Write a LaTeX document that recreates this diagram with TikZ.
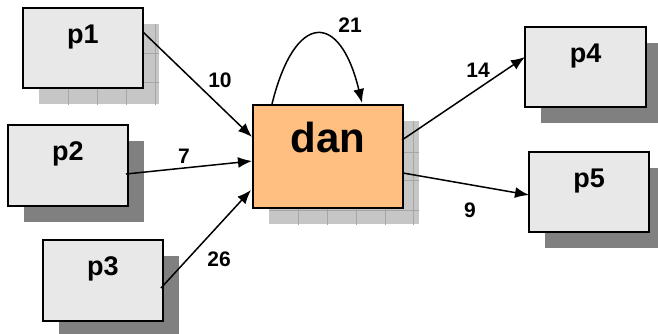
\documentclass[tikz,border=0pt]{standalone}
\usepackage{fontspec}
\setmainfont{Liberation Sans}
\usetikzlibrary{arrows.meta,backgrounds,calc}
\definecolor{boxgray}{HTML}{E8E8E8}
\definecolor{shadowdark}{HTML}{808080}
\definecolor{shadowlight}{HTML}{C6C6C6}
\definecolor{gridline}{HTML}{A6A6A6}
\definecolor{danfill}{HTML}{FFBF80}
\begin{document}
\begin{tikzpicture}[x=1pt,y=-1pt,
  pbox/.style={draw=black, line width=1.5pt, fill=boxgray, anchor=north west,
    minimum width=120pt, inner sep=0pt, outer sep=0pt, text height=35pt, text depth=45pt,
    font=\bfseries\fontsize{27}{27}\selectfont},
  danbox/.style={pbox, fill=danfill, minimum width=150pt, text height=47pt, text depth=56pt,
    font=\bfseries\fontsize{42}{42}\selectfont},
  elabel/.style={anchor=base, inner sep=0pt, font=\bfseries\fontsize{21}{21}\selectfont},
  arr/.style={-{Latex[length=14pt,width=11pt]}, line width=1.5pt},
  darkshadow/.style={fill=shadowdark},
  lightshadow/.style={fill=shadowlight},
  gridlines/.style={draw=gridline, line width=0.8pt}]
\clip (0,0) rectangle (658,333);
\useasboundingbox (0,0) rectangle (658,333);

% boxes
\node[pbox] (p1) at (23,8) {p1};
\node[pbox, text depth=46pt] (p2) at (8,125) {p2};
\node[pbox, text depth=46pt] (p3) at (43,240) {p3};
\node[pbox, minimum width=121pt] (p4) at (525,27) {p4};
\node[pbox] (p5) at (529,152) {p5};
\node[danbox] (dan) at (253,105) {dan};

% shadows
\begin{scope}[on background layer]
  \fill[darkshadow] ($(p2.north west)+(16,16)$) rectangle ($(p2.south east)+(16,16)$);
  \fill[darkshadow] ($(p3.north west)+(16,16)$) rectangle ($(p3.south east)+(16,16)$);
  \fill[darkshadow] ($(p4.north west)+(16,16)$) rectangle ($(p4.south east)+(16,16)$);
  \fill[darkshadow] ($(p5.north west)+(16,16)$) rectangle ($(p5.south east)+(16,16)$);
  \begin{scope}
    \clip ($(p1.north west)+(16,16)$) rectangle ($(p1.south east)+(16,16)$);
    \fill[lightshadow] ($(p1.north west)+(16,16)$) rectangle ($(p1.south east)+(16,16)$);
    \foreach \gx in {68,97,126,155} \draw[gridlines] (\gx,0) -- (\gx,120);
    \foreach \gy in {53,82} \draw[gridlines] (30,\gy) -- (170,\gy);
  \end{scope}
  \begin{scope}
    \clip ($(dan.north west)+(16,16)$) rectangle ($(dan.south east)+(16,16)$);
    \fill[lightshadow] ($(dan.north west)+(16,16)$) rectangle ($(dan.south east)+(16,16)$);
    \foreach \gx in {298,327,356,385,413} \draw[gridlines] (\gx,110) -- (\gx,240);
    \foreach \gy in {152,180,210} \draw[gridlines] (260,\gy) -- (430,\gy);
  \end{scope}
\end{scope}

% connectors
\draw[arr] ($(p1.north east)+(0,24)$) -- ($(dan.north west)+(-1,32)$);
\draw[arr] ($(p2.north east)+(-2,49)$) -- ($(dan.north west)+(-1,56)$);
\draw[arr] ($(p3.north east)+(-2,48)$) -- ($(dan.north west)+(-2,85)$);
\draw[arr] ($(dan.north east)+(-1,35)$) -- ($(p4.north west)+(0,30)$);
\draw[arr] ($(dan.north east)+(0,68)$) -- ($(p5.north west)+(0,43)$);
\draw[arr] ($(dan.north west)+(19,-1)$) .. controls +(23,-93) and +(-22,-92) .. ($(dan.north west)+(109,-2)$);

% labels
\node[elabel] (l10) at (220,87) {10};
\node[elabel] (l7) at (184,163) {7};
\node[elabel] (l26) at (219,266) {26};
\node[elabel] (l21) at (350,32) {21};
\node[elabel] (l14) at (478,77) {14};
\node[elabel] (l9) at (470,217) {9};
\end{tikzpicture}
\end{document}
